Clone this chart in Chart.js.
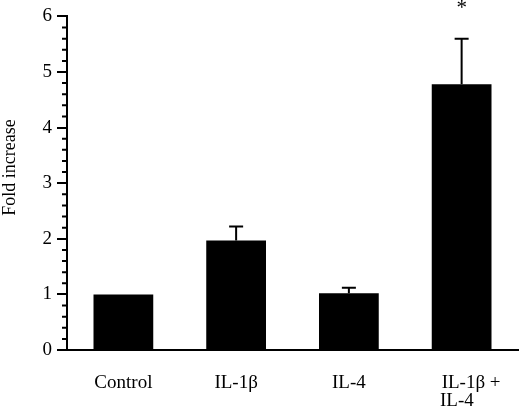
<!DOCTYPE html>
<html><head><meta charset="utf-8">
<script src="https://cdn.jsdelivr.net/npm/chart.js@4.4.0/dist/chart.umd.min.js"></script>
<style>html,body{margin:0;padding:0;background:#fff}#wrap{width:520px;height:410px;position:relative}</style>
</head><body><div id="wrap"><canvas id="c"></canvas></div>
<script>
const categories = ['Control', 'IL-1β', 'IL-4', ['    IL-1β +', 'IL-4  ']];
const foldIncrease = [1.0, 1.97, 1.02, 4.78];
const errorUpper = [0, 0.25, 0.10, 0.82];
const significance = ['', '', '', '*'];
const yMin = 0, yMax = 6, yStep = 1, yMinorStep = 0.2;
const yTitle = '       Fold increase';

const FONT = 'Liberation Serif';

const extras = {
  id: 'extras',
  afterDraw(chart) {
    const ctx = chart.ctx;
    const y = chart.scales.y;
    const meta = chart.getDatasetMeta(0);
    ctx.save();
    ctx.strokeStyle = '#000';
    ctx.fillStyle = '#000';
    ctx.lineWidth = 2;
    meta.data.forEach((bar, i) => {
      if (!errorUpper[i]) return;
      const top = y.getPixelForValue(foldIncrease[i] + errorUpper[i]);
      ctx.beginPath();
      ctx.moveTo(bar.x, bar.y);
      ctx.lineTo(bar.x, top);
      ctx.moveTo(bar.x - 7, top);
      ctx.lineTo(bar.x + 7, top);
      ctx.stroke();
      if (significance[i]) {
        ctx.font = '21px "' + FONT + '"';
        ctx.textAlign = 'center';
        ctx.textBaseline = 'alphabetic';
        ctx.fillText(significance[i], bar.x, top - 25);
      }
    });
    // minor ticks
    const left = chart.chartArea.left;
    ctx.beginPath();
    for (let k = 0; k <= Math.round((yMax - yMin) / yMinorStep); k++) {
      const v = yMin + k * yMinorStep;
      if (Math.abs(v - Math.round(v)) < 1e-6) continue;
      const p = y.getPixelForValue(v);
      ctx.moveTo(left - 5, p);
      ctx.lineTo(left, p);
    }
    ctx.stroke();
    ctx.restore();
  }
};

new Chart(document.getElementById('c'), {
  type: 'bar',
  data: {
    labels: categories,
    datasets: [{
      data: foldIncrease,
      backgroundColor: '#000',
      borderWidth: 0,
      barPercentage: 0.53,
      categoryPercentage: 1.0
    }]
  },
  options: {
    responsive: true,
    maintainAspectRatio: false,
    animation: false,
    layout: { padding: { top: 6, right: 2, left: 0, bottom: 0 } },
    plugins: { legend: { display: false }, tooltip: { enabled: false } },
    scales: {
      x: {
        afterFit(scale) { scale.height = 60; scale.paddingLeft = 0; scale.paddingRight = 0; },
        grid: { display: false, drawTicks: false },
        border: { display: true, color: '#000', width: 2 },
        ticks: { color: '#000', padding: 24, maxRotation: 0, autoSkip: false,
                 font: { family: FONT, size: 19, lineHeight: 0.95 } }
      },
      y: {
        afterFit(scale) { scale.width = 67; },
        min: yMin, max: yMax,
        grid: { drawOnChartArea: false, drawTicks: true, tickLength: 10, color: '#000', lineWidth: 2 },
        border: { display: true, color: '#000', width: 2 },
        ticks: { stepSize: yStep, color: '#000', padding: 5,
                 font: { family: FONT, size: 19 } },
        title: { display: true, text: yTitle, color: '#000', padding: { top: -1, bottom: 0 },
                 font: { family: FONT, size: 18 } }
      }
    }
  },
  plugins: [extras]
});
</script>
</body></html>
